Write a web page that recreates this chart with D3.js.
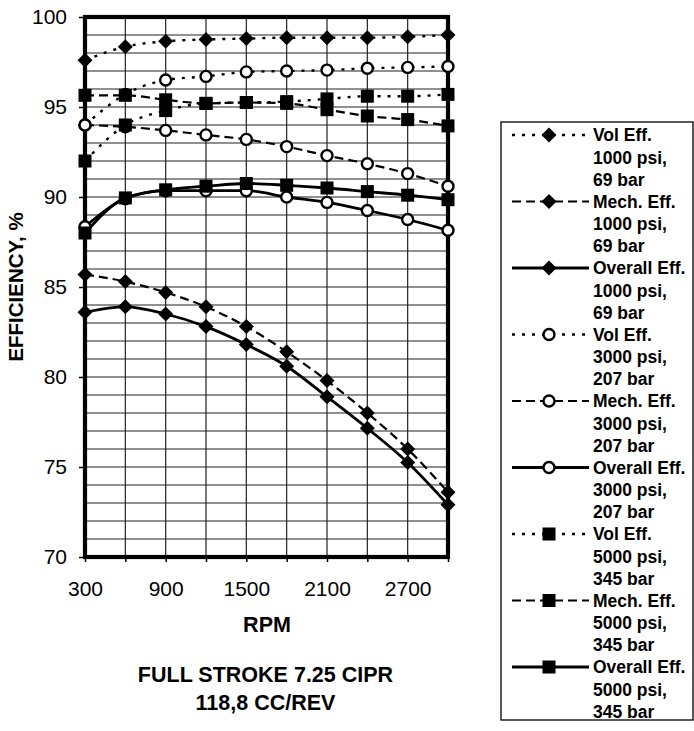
<!DOCTYPE html>
<html><head><meta charset="utf-8">
<script src="https://cdn.jsdelivr.net/npm/d3@7"></script>
<style>
html,body{margin:0;padding:0;background:#fff;}
text{font-family:"Liberation Sans",Arial,Helvetica,sans-serif;fill:#000;}
</style></head>
<body>
<script>
const rpm = [300,600,900,1200,1500,1800,2100,2400,2700,3000];
const xTickLabels = [300,900,1500,2100,2700];
const yTickLabels = [70,75,80,85,90,95,100];

const volEff1000     = [97.6, 98.35, 98.65, 98.75, 98.8, 98.85, 98.85, 98.85, 98.9, 99.0];
const mechEff1000    = [85.7, 85.3, 84.7, 83.9, 82.8, 81.4, 79.8, 78.0, 76.0, 73.6];
const overallEff1000 = [83.6, 83.9, 83.5, 82.8, 81.8, 80.6, 78.9, 77.15, 75.25, 72.9];
const volEff3000     = [94.0, 95.7, 96.5, 96.7, 96.95, 97.0, 97.05, 97.15, 97.2, 97.25];
const mechEff3000    = [94.0, 93.9, 93.7, 93.45, 93.2, 92.8, 92.3, 91.85, 91.3, 90.6];
const overallEff3000 = [88.35, 89.9, 90.35, 90.35, 90.35, 90.0, 89.7, 89.25, 88.75, 88.15];
const volEff5000     = [92.0, 94.0, 94.8, 95.2, 95.25, 95.3, 95.45, 95.6, 95.6, 95.7];
const mechEff5000    = [95.65, 95.65, 95.4, 95.2, 95.25, 95.2, 94.85, 94.5, 94.3, 93.95];
const overallEff5000 = [88.0, 89.95, 90.4, 90.6, 90.75, 90.65, 90.5, 90.3, 90.1, 89.85];

const seriesNames = [
  ["Vol Eff.","1000 psi,","69 bar"],
  ["Mech. Eff.","1000 psi,","69 bar"],
  ["Overall Eff.","1000 psi,","69 bar"],
  ["Vol Eff.","3000 psi,","207 bar"],
  ["Mech. Eff.","3000 psi,","207 bar"],
  ["Overall Eff.","3000 psi,","207 bar"],
  ["Vol Eff.","5000 psi,","345 bar"],
  ["Mech. Eff.","5000 psi,","345 bar"],
  ["Overall Eff.","5000 psi,","345 bar"]
];
const seriesValues = [volEff1000, mechEff1000, overallEff1000, volEff3000, mechEff3000, overallEff3000, volEff5000, mechEff5000, overallEff5000];
const seriesMarker = ["diamond","diamond","diamond","circle","circle","circle","square","square","square"];
const seriesStyle  = ["vol","mech","overall","vol","mech","overall","vol","mech","overall"];

const W = 694, H = 731;
const svg = d3.select("body").append("svg").attr("width", W).attr("height", H);
svg.append("rect").attr("width", W).attr("height", H).attr("fill", "#fff");

const L = 85, R = 448, T = 17, B = 557;
const x = d3.scaleLinear().domain([300, 3000]).range([L, R]);
const y = d3.scaleLinear().domain([70, 100]).range([B, T]);

const dashFor = {vol: "3,7", mech: "9,5", overall: null};
const widthFor = {vol: 2.4, mech: 2.2, overall: 2.8};

// grid
const g = svg.append("g");
g.selectAll("line.h").data(d3.range(70, 101, 1)).join("line")
  .attr("x1", L).attr("x2", R).attr("y1", d => y(d)).attr("y2", d => y(d))
  .attr("stroke", "#222").attr("stroke-width", 1.2);
g.selectAll("line.v").data(d3.range(300, 3001, 300)).join("line")
  .attr("y1", T).attr("y2", B).attr("x1", d => x(d)).attr("x2", d => x(d))
  .attr("stroke", "#222").attr("stroke-width", 1.2);

// axes
const xAxis = d3.axisBottom(x).tickValues(d3.range(300, 3001, 300))
  .tickFormat(d => xTickLabels.includes(d) ? d : "").tickSize(5).tickPadding(19);
const gx = svg.append("g").attr("transform", `translate(0,${B})`).call(xAxis);
gx.select(".domain").remove();
gx.selectAll("line").attr("stroke", "#000").attr("stroke-width", 1.5);
gx.selectAll("text").attr("font-size", 21).attr("fill", "#000");

const yAxis = d3.axisLeft(y).tickValues(yTickLabels).tickSize(6).tickPadding(12);
const gy = svg.append("g").attr("transform", `translate(${L},0)`).call(yAxis);
gy.select(".domain").remove();
gy.selectAll("line").attr("stroke", "#000").attr("stroke-width", 1.5);
gy.selectAll("text").attr("font-size", 21).attr("fill", "#000");

// frame
svg.append("rect").attr("x", L).attr("y", T).attr("width", R - L).attr("height", B - T)
  .attr("fill", "none").attr("stroke", "#000").attr("stroke-width", 4.2);

// markers
function drawMarker(sel, type, cx, cy) {
  if (type === "diamond") {
    const s = 7.5;
    sel.append("path").attr("d", `M${cx},${cy - s}L${cx + s},${cy}L${cx},${cy + s}L${cx - s},${cy}Z`)
      .attr("fill", "#000");
  } else if (type === "circle") {
    sel.append("circle").attr("cx", cx).attr("cy", cy).attr("r", 5.5)
      .attr("fill", "#fff").attr("stroke", "#000").attr("stroke-width", 2.4);
  } else {
    const s = 6.5;
    sel.append("rect").attr("x", cx - s).attr("y", cy - s).attr("width", 2 * s).attr("height", 2 * s)
      .attr("fill", "#000");
  }
}

const line = d3.line().x((d, i) => x(rpm[i])).y(d => y(d)).curve(d3.curveMonotoneX);
const plot = svg.append("g");
seriesValues.forEach((vals, k) => {
  const st = seriesStyle[k];
  plot.append("path").attr("d", line(vals)).attr("fill", "none")
    .attr("stroke", "#000").attr("stroke-width", widthFor[st])
    .attr("stroke-dasharray", dashFor[st]);
  const mg = plot.append("g");
  vals.forEach((v, i) => drawMarker(mg, seriesMarker[k], x(rpm[i]), y(v)));
});

// axis titles
svg.append("text").attr("x", 267).attr("y", 632).attr("text-anchor", "middle")
  .attr("font-size", 21.5).attr("font-weight", "bold").text("RPM");
svg.append("text").attr("transform", `translate(23,${(T + B) / 2}) rotate(-90)`)
  .attr("text-anchor", "middle").attr("font-size", 20.5).attr("font-weight", "bold")
  .text("EFFICIENCY, %");
svg.append("text").attr("x", 265.5).attr("y", 682).attr("text-anchor", "middle")
  .attr("font-size", 21.5).attr("font-weight", "bold").text("FULL STROKE 7.25 CIPR");
svg.append("text").attr("x", 265.5).attr("y", 710).attr("text-anchor", "middle")
  .attr("font-size", 21.5).attr("font-weight", "bold").text("118,8 CC/REV");

// legend
const lg = svg.append("g");
lg.append("rect").attr("x", 501).attr("y", 122).attr("width", 192).attr("height", 598)
  .attr("fill", "#fff").attr("stroke", "#000").attr("stroke-width", 1.3);
seriesNames.forEach((lines, k) => {
  const y0 = 135 + k * 66.5;
  const st = seriesStyle[k];
  lg.append("line").attr("x1", 512).attr("x2", 589).attr("y1", y0).attr("y2", y0)
    .attr("stroke", "#000").attr("stroke-width", widthFor[st]).attr("stroke-dasharray", dashFor[st]);
  drawMarker(lg, seriesMarker[k], 549, y0);
  const t = lg.append("text").attr("x", 593).attr("y", y0 + 6.3)
    .attr("font-size", 17.5).attr("font-weight", "bold");
  lines.forEach((s, j) => t.append("tspan").attr("x", 593).attr("dy", j === 0 ? 0 : 22.2).text(s));
});
</script>
</body></html>
